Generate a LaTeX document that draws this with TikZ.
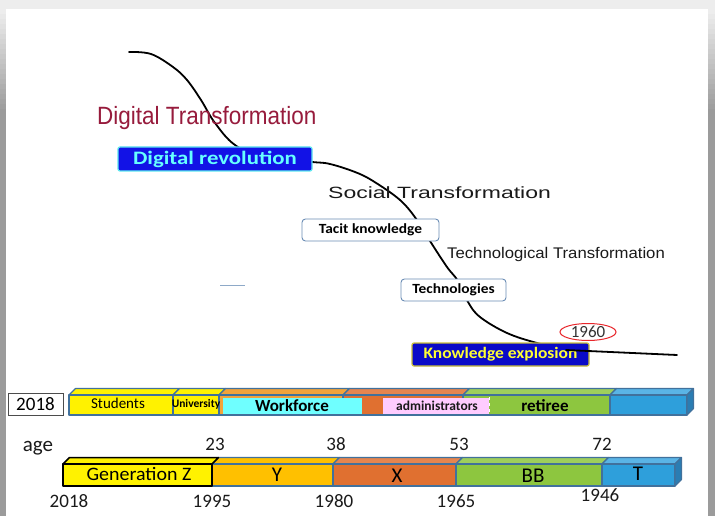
\documentclass[tikz,border=0pt]{standalone}
\usepackage{fontspec}
\setmainfont{Carlito}
\newfontfamily\arialf{Liberation Sans}
\usetikzlibrary{shapes.geometric}
\definecolor{sidegrey}{HTML}{9B9B9B}
\definecolor{lightg}{HTML}{EDEDED}
\definecolor{dtred}{HTML}{971B3C}
\definecolor{drblue}{HTML}{1212E6}
\definecolor{drcyan}{HTML}{5CE6F0}
\definecolor{drtext}{HTML}{66FFFF}
\definecolor{keblue}{HTML}{0A0AC8}
\definecolor{keedge}{HTML}{C9BE3A}
\definecolor{ketext}{HTML}{FFFF33}
\definecolor{boxedge}{HTML}{6B8DB5}
\definecolor{baredge}{HTML}{41719C}
\definecolor{cyanw}{HTML}{6FFFFF}
\definecolor{pinka}{HTML}{FFCCFF}
\definecolor{ygold}{HTML}{FFC000}
\definecolor{xorange}{HTML}{E07030}
\definecolor{wforange}{HTML}{F2A33A}
\definecolor{bbgreen}{HTML}{8DC63F}
\definecolor{tblue}{HTML}{2E9FDB}
\definecolor{tbluetop}{HTML}{5AB4E6}
\definecolor{tblueside}{HTML}{2A7DB3}
\definecolor{dashblue}{HTML}{8EA9C8}
\definecolor{redring}{HTML}{E8262B}
\definecolor{darktext}{HTML}{1A1A1A}
\newcommand\fs[1]{\fontsize{#1}{#1}\selectfont}
\newcommand\bdx{6.5}
\newcommand\bdy{6.5}
% x1, x2, ytop, ybot, front, edge, top
\newcommand\mycuboid[7]{%
  \filldraw[bar, fill=#7, draw=#6] (#1,#3) -- ({#1+\bdx},{#3-\bdy}) -- ({#2+\bdx},{#3-\bdy}) -- (#2,#3) -- cycle;
  \filldraw[bar, fill=#5, draw=#6] (#1,#3) rectangle (#2,#4);
}
\tikzset{
  curve/.style={line width=1.8pt, black, line cap=round},
  bar/.style={line width=1.1pt, line join=round},
  lbl/.style={inner sep=0pt, anchor=base},
  rbox/.style={draw=boxedge, fill=white, rounded corners=3.5pt, line width=0.9pt, inner sep=0pt, font=\fs{14}\bfseries, text=black},
  bluebox/.style={rounded corners=2pt, inner sep=0pt, line width=1.2pt},
}
\begin{document}
\begin{tikzpicture}[x=1pt,y=-1pt]
\useasboundingbox (0,0) rectangle (715,516);
% frame
\fill[sidegrey] (0,0) rectangle (715,516);
\foreach \i [evaluate=\i as \p using int(5*\i)] in {0,...,20} {
  \fill[sidegrey!\p!lightg] (0,{9+5*\i}) rectangle (715,{14.5+5*\i});
}
\fill[lightg] (0,0) rectangle (715,9);
\fill[white] (6,9) rectangle (708,516);

% curve
\draw[curve] plot[smooth, tension=0.6] coordinates {(129,52) (151,54) (173,67) (187,80) (201,100) (215,123) (235,145) (265,158) (312,162) (330,164) (355,172) (373,181) (400,200) (417,220) (430,241) (447,267) (458,281) (468,302) (480,317) (507,333) (537,343) (568,350)};

% small dash
\coordinate (d1) at (220,285);
\coordinate (d2) at (245,285);
\draw[dashblue, line width=1pt] (d1) -- (d2);

% boxes
\node[bluebox, fill=drblue, draw=drcyan, minimum width=194pt, minimum height=24pt, text=drtext, font=\fs{19}\bfseries] (dr) at (215,159) {\scalebox{1.2}[1]{Digital revolution}};
\node[rbox, minimum width=137pt, minimum height=22pt] (tk) at (370.5,230) {\scalebox{1.1}[1]{Tacit knowledge}};
\node[rbox, minimum width=105pt, minimum height=22pt] (tech) at (453.5,290) {\scalebox{1.1}[1]{Technologies}};
\node[bluebox, fill=keblue, draw=keedge, minimum width=177pt, minimum height=23pt, text=ketext, font=\fs{16}\bfseries] (ke) at (500.5,354.5) {\scalebox{1.09}[1]{Knowledge explosion}};
\coordinate (keline) at (566,350);
\coordinate (lineend) at (677,355);
\draw[curve] (keline) -- (lineend);
\node[ellipse, draw=redring, line width=1pt, minimum width=56pt, minimum height=17pt, inner sep=0pt, font=\fs{17}, text=black!80] (y60) at (588,332) {1960};

% titles
\node[lbl, anchor=base west, text=dtred, font=\arialf\fs{25}] (dt) at (97,125) {\scalebox{0.9}[1]{Digital Transformation}};
\node[lbl, anchor=base west, text=darktext, font=\arialf\fs{16.3}] (st) at (328,198) {\scalebox{1.41}[1]{Social Transformation}};
\node[lbl, anchor=base west, text=darktext, font=\arialf\fs{15.4}] (tt) at (447,258.3) {\scalebox{1.085}[1]{Technological Transformation}};

% top row bars
\node[draw=black!70, line width=0.8pt, minimum width=55pt, minimum height=22pt, inner sep=0pt, font=\fs{19}] (yr) at (35.5,404) {2018};
\mycuboid{69}{173}{395}{415}{yellow}{baredge}{yellow}
\mycuboid{173}{219}{395}{415}{yellow}{baredge}{yellow}
\mycuboid{219}{343}{395}{415}{wforange}{baredge}{wforange}
\mycuboid{343}{463}{395}{415}{xorange}{baredge}{xorange!85!white}
\mycuboid{463}{610}{395}{415}{bbgreen}{baredge}{bbgreen!85!white}
\mycuboid{610}{687}{395}{415}{tblue}{baredge}{tbluetop}
\filldraw[bar, fill=tblueside, draw=baredge] (687,395) -- ({687+\bdx},{395-\bdy}) -- ({687+\bdx},{415-\bdy}) -- (687,415) -- cycle;
\fill[cyanw] (223,398) rectangle (362,414.4);
\fill[pinka] (383,398) rectangle (489,414.4);
\draw[white, dashed, line width=0.8pt] (489,397) -- (489,414);

\node[lbl, font=\fs{15}] (stu) at (118,408) {Students};
\node[lbl, font=\fs{11.5}\bfseries] (uni) at (196,407) {University};
\node[lbl, font=\fs{17}\bfseries] (wf) at (292,411) {Workforce};
\node[lbl, font=\fs{13.5}\bfseries, text=darktext] (adm) at (437,410) {administrators};
\node[lbl, font=\fs{17}\bfseries] (ret) at (545,411) {retiree};

% bottom row bars
\mycuboid{212}{333}{464}{486}{ygold}{baredge}{ygold}
\mycuboid{333}{456}{464}{486}{xorange}{baredge}{xorange!85!white}
\mycuboid{456}{602}{464}{486}{bbgreen}{baredge}{bbgreen!85!white}
\mycuboid{602}{675}{464}{486}{tblue}{baredge}{tbluetop}
\filldraw[bar, fill=tblueside, draw=baredge] (675,464) -- ({675+\bdx},{464-\bdy}) -- ({675+\bdx},{486-\bdy}) -- (675,486) -- cycle;
\begin{scope}[bar/.append style={line width=1.5pt}]
\mycuboid{63}{212}{464}{486}{yellow}{black}{yellow}
\end{scope}

\node[lbl, font=\fs{19}] (gz) at (139,480) {\scalebox{1.05}[1]{Generation Z}};
\node[lbl, font=\fs{21}] (gy) at (277,481) {Y};
\node[lbl, font=\fs{21}] (gx) at (397,482) {X};
\node[lbl, font=\fs{21}] (gbb) at (533,482) {BB};
\node[lbl, font=\fs{21}] (gt) at (638,480) {T};

% ages and years
\node[lbl, font=\fs{21}, text=darktext] (age) at (38,451) {age};
\node[lbl, font=\fs{19}, text=darktext] (a23) at (215,450) {23};
\node[lbl, font=\fs{19}, text=darktext] (a38) at (336,450) {38};
\node[lbl, font=\fs{19}, text=darktext] (a53) at (459,450) {53};
\node[lbl, font=\fs{19}, text=darktext] (a72) at (602,450) {72};
\node[lbl, font=\fs{19}, text=darktext] (y2018) at (69,507) {2018};
\node[lbl, font=\fs{19}, text=darktext] (y1995) at (212,507) {1995};
\node[lbl, font=\fs{19}, text=darktext] (y1980) at (334,507) {1980};
\node[lbl, font=\fs{19}, text=darktext] (y1965) at (456,507) {1965};
\node[lbl, font=\fs{19}, text=darktext] (y1946) at (600,501) {1946};
\end{tikzpicture}
\end{document}
